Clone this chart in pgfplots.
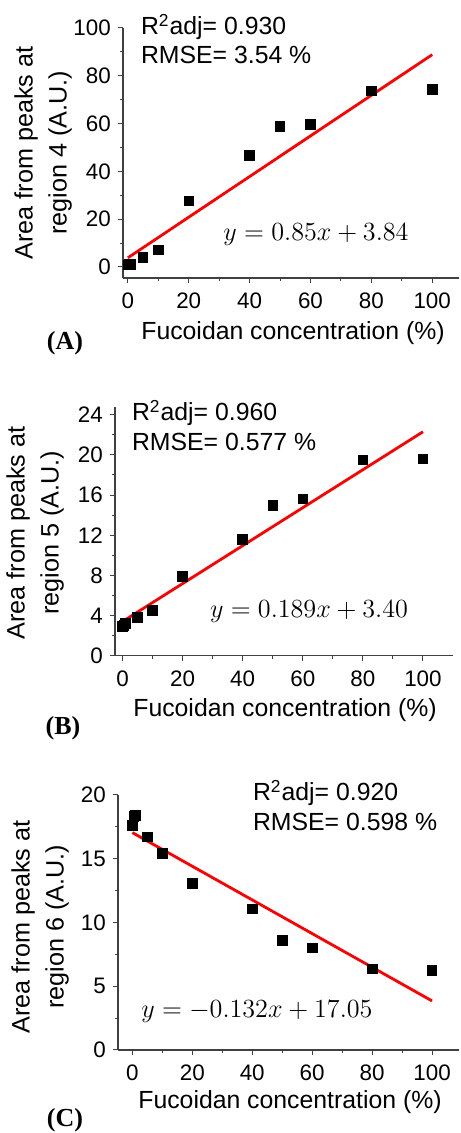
\documentclass[border=0pt]{standalone}
\usepackage{fontspec}
\setmainfont{Liberation Sans}
\newfontfamily\panelfont{Liberation Serif}
\usepackage{pgfplots}
\pgfplotsset{compat=1.18}

\pgfplotsset{
  fuco/.style={
    scale only axis,
    axis lines=left,
    axis line style={-, black!75, line width=0.6pt},
    tick style={black!75, line width=0.5pt},
    tick align=outside,
    major tick length=2.6pt,
    minor tick length=1.6pt,
    minor x tick num=1, minor y tick num=1,
    xtick={0,20,...,100},
    tick label style={font=\fontsize{11.2}{13}\selectfont},
    xticklabel style={yshift=-1.5pt},
    /pgf/number format/assume math mode=true,
    clip=false,
  },
  pts/.style={only marks, mark=square*, mark size=2.4pt, black},
  fitline/.style={red, line width=1.4pt, no marks},
}
\tikzset{
  txt/.style={font=\fontsize{12.4}{14}\selectfont},
  eqn/.style={font=\fontsize{12}{14}\selectfont, scale=1.09},
  ylab/.style={font=\fontsize{12.6}{17}\selectfont, rotate=90, align=center},
  panel/.style={font=\fontsize{13}{15}\selectfont\panelfont\bfseries},
}

\begin{document}
\begin{tikzpicture}[x=0.5pt, y=0.5pt]
\path[use as bounding box] (0,0) rectangle (460,1133);

% ---- (A) region 4 ----
\begin{axis}[fuco, at={(61.5pt,427.5pt)}, anchor=south west,
  width=168pt, height=125pt,
  xmin=-1.6, xmax=108.8, ymin=-4.6, ymax=100,
  ytick={0,20,...,100}]
\addplot[pts] coordinates {
  (0,0.8)(0.5,1.0)(1,1.2)(5,3.9)(10,7.1)(20,27.6)
  (40,46.7)(50,58.7)(60,59.7)(80,73.6)(100,74.3)
};
\addplot[fitline] coordinates {(0,3.84)(100,88.84)};
\end{axis}
\node[txt, anchor=west] at (134,1106) {R\textsuperscript{2}adj= 0.930};
\node[txt, anchor=west] at (134,1078) {RMSE= 3.54 \%};
\node[eqn] at (316,898) {$y = 0.85x + 3.84$};
\node[txt] at (293,800) {Fucoidan concentration (\%)};
\node[panel] at (65,790) {(A)};
\node[ylab] at (43,980) {Area from peaks at\\region 4 (A.U.)};

% ---- (B) region 5 ----
\begin{axis}[fuco, at={(57.5pt,238.65pt)}, anchor=south west,
  width=169pt, height=124.5pt,
  xmin=-2.5, xmax=110, ymin=0, ymax=24.8,
  ytick={0,4,...,24}]
\addplot[pts] coordinates {
  (0,2.9)(0.5,3.0)(1,3.2)(5,3.79)(10,4.49)(20,7.88)
  (40,11.6)(50,14.95)(60,15.6)(80,19.5)(100,19.6)
};
\addplot[fitline] coordinates {(0,3.40)(100,22.30)};
\end{axis}
\node[txt, anchor=west] at (125,720) {R\textsuperscript{2}adj= 0.960};
\node[txt, anchor=west] at (125,691) {RMSE= 0.577 \%};
\node[eqn] at (309,521) {$y = 0.189x + 3.40$};
\node[txt] at (285,423) {Fucoidan concentration (\%)};
\node[panel] at (63,405) {(B)};
\node[ylab] at (35,600) {Area from peaks at\\region 5 (A.U.)};

% ---- (C) region 6 ----
\begin{axis}[fuco, at={(59pt,41.5pt)}, anchor=south west,
  width=170.5pt, height=127.5pt,
  xmin=-4.8, xmax=109, ymin=0, ymax=20,
  ytick={0,5,...,20}]
\addplot[pts] coordinates {
  (0,17.6)(0.5,18.3)(1,18.4)(5,16.7)(10,15.4)(20,13.05)
  (40,11.08)(50,8.58)(60,8.0)(80,6.35)(100,6.22)
};
\addplot[fitline] coordinates {(0,17.05)(100,3.85)};
\end{axis}
\node[txt, anchor=west] at (246,340) {R\textsuperscript{2}adj= 0.920};
\node[txt, anchor=west] at (246,311) {RMSE= 0.598 \%};
\node[eqn] at (257,121) {$y = -0.132x + 17.05$};
\node[txt] at (290,31) {Fucoidan concentration (\%)};
\node[panel] at (65,13) {(C)};
\node[ylab] at (40,206) {Area from peaks at\\region 6 (A.U.)};
\end{tikzpicture}
\end{document}
